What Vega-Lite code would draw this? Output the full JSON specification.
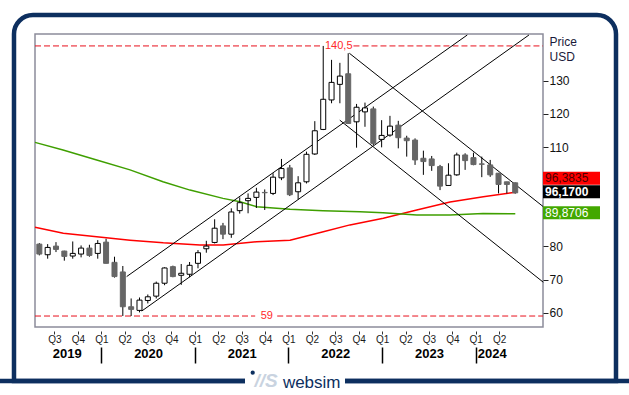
{
"$schema": "https://vega.github.io/schema/vega-lite/v6.json",
"width": 508, "height": 293,
"autosize": {"type": "none"},
"padding": {"left": 35, "top": 34, "right": 86, "bottom": 68},
"background": "#ffffff",
"config": {
  "view": {"stroke": "#8c8c9a", "strokeWidth": 1.5},
  "font": "Liberation Sans",
  "scale": {"continuousPadding": 0},
  "axis": {"labelFont": "Liberation Sans", "titleFont": "Liberation Sans", "grid": false, "domain": false}
},
"datasets": {
  "candles": [
    {"t": 2019.338, "open": 80.7, "high": 81.0, "low": 77.3, "close": 77.7},
    {"t": 2019.427, "open": 77.5, "high": 80.7, "low": 76.3, "close": 79.7},
    {"t": 2019.516, "open": 80.1, "high": 81.3, "low": 78.3, "close": 79.1},
    {"t": 2019.605, "open": 78.6, "high": 78.7, "low": 75.7, "close": 77.0},
    {"t": 2019.695, "open": 77.1, "high": 81.5, "low": 76.3, "close": 77.9},
    {"t": 2019.784, "open": 77.7, "high": 80.3, "low": 76.7, "close": 79.5},
    {"t": 2019.873, "open": 79.5, "high": 80.5, "low": 76.9, "close": 77.3},
    {"t": 2019.962, "open": 77.9, "high": 81.9, "low": 76.3, "close": 80.9},
    {"t": 2020.051, "open": 81.3, "high": 82.3, "low": 74.9, "close": 74.9},
    {"t": 2020.141, "open": 75.2, "high": 76.9, "low": 70.6, "close": 70.9},
    {"t": 2020.230, "open": 72.3, "high": 74.1, "low": 59.0, "close": 61.8},
    {"t": 2020.319, "open": 61.8, "high": 64.3, "low": 59.0, "close": 61.0},
    {"t": 2020.408, "open": 60.7, "high": 64.6, "low": 60.1, "close": 63.8},
    {"t": 2020.497, "open": 63.7, "high": 65.5, "low": 62.8, "close": 64.8},
    {"t": 2020.587, "open": 65.0, "high": 69.4, "low": 64.3, "close": 68.9},
    {"t": 2020.676, "open": 68.9, "high": 73.7, "low": 68.3, "close": 73.5},
    {"t": 2020.765, "open": 73.9, "high": 74.2, "low": 70.7, "close": 70.9},
    {"t": 2020.854, "open": 71.3, "high": 74.7, "low": 68.4, "close": 71.9},
    {"t": 2020.943, "open": 71.6, "high": 75.3, "low": 70.7, "close": 74.3},
    {"t": 2021.033, "open": 74.9, "high": 78.9, "low": 73.4, "close": 78.1},
    {"t": 2021.122, "open": 79.3, "high": 81.7, "low": 78.1, "close": 80.1},
    {"t": 2021.211, "open": 81.2, "high": 88.2, "low": 80.9, "close": 85.5},
    {"t": 2021.300, "open": 86.2, "high": 87.1, "low": 82.2, "close": 83.7},
    {"t": 2021.389, "open": 83.7, "high": 91.5, "low": 82.6, "close": 90.4},
    {"t": 2021.479, "open": 90.8, "high": 94.8, "low": 89.9, "close": 93.2},
    {"t": 2021.568, "open": 93.8, "high": 96.0, "low": 90.0, "close": 94.5},
    {"t": 2021.657, "open": 94.8, "high": 97.7, "low": 91.6, "close": 96.4},
    {"t": 2021.746, "open": 96.3, "high": 97.2, "low": 91.0, "close": 96.2},
    {"t": 2021.835, "open": 96.0, "high": 102.1, "low": 95.5, "close": 100.9},
    {"t": 2021.925, "open": 100.7, "high": 106.4, "low": 100.0, "close": 103.5},
    {"t": 2022.014, "open": 103.7, "high": 104.6, "low": 95.2, "close": 95.6},
    {"t": 2022.103, "open": 96.5, "high": 101.2, "low": 94.2, "close": 99.2},
    {"t": 2022.192, "open": 99.5, "high": 108.6, "low": 99.0, "close": 107.8},
    {"t": 2022.281, "open": 107.9, "high": 117.8, "low": 107.6, "close": 114.9},
    {"t": 2022.371, "open": 115.3, "high": 140.5, "low": 115.1, "close": 124.4},
    {"t": 2022.460, "open": 124.2, "high": 136.3, "low": 123.2, "close": 129.5},
    {"t": 2022.549, "open": 128.9, "high": 135.4, "low": 123.2, "close": 131.4},
    {"t": 2022.638, "open": 132.1, "high": 138.3, "low": 117.1, "close": 117.1},
    {"t": 2022.727, "open": 117.6, "high": 123.0, "low": 109.8, "close": 122.0},
    {"t": 2022.817, "open": 120.6, "high": 123.4, "low": 116.1, "close": 121.8},
    {"t": 2022.906, "open": 121.5, "high": 122.2, "low": 110.6, "close": 111.1},
    {"t": 2022.995, "open": 112.3, "high": 118.1, "low": 109.9, "close": 113.5},
    {"t": 2023.084, "open": 113.6, "high": 119.4, "low": 113.1, "close": 116.3},
    {"t": 2023.173, "open": 116.6, "high": 117.9, "low": 109.6, "close": 112.8},
    {"t": 2023.263, "open": 112.7, "high": 113.4, "low": 107.1, "close": 111.9},
    {"t": 2023.352, "open": 112.1, "high": 112.6, "low": 104.6, "close": 106.1},
    {"t": 2023.441, "open": 106.6, "high": 108.9, "low": 101.6, "close": 105.6},
    {"t": 2023.530, "open": 106.4, "high": 107.3, "low": 102.8, "close": 104.4},
    {"t": 2023.619, "open": 104.1, "high": 104.6, "low": 97.0, "close": 98.2},
    {"t": 2023.709, "open": 98.4, "high": 105.1, "low": 98.4, "close": 101.5},
    {"t": 2023.798, "open": 101.6, "high": 108.3, "low": 101.3, "close": 107.6},
    {"t": 2023.887, "open": 107.6, "high": 108.1, "low": 103.1, "close": 105.9},
    {"t": 2023.976, "open": 106.8, "high": 108.3, "low": 104.5, "close": 104.7},
    {"t": 2024.065, "open": 104.9, "high": 107.1, "low": 100.9, "close": 104.8},
    {"t": 2024.155, "open": 104.6, "high": 106.1, "low": 101.0, "close": 101.6},
    {"t": 2024.244, "open": 102.1, "high": 102.1, "low": 96.0, "close": 98.7},
    {"t": 2024.333, "open": 99.5, "high": 99.5, "low": 96.0, "close": 98.7},
    {"t": 2024.422, "open": 99.2, "high": 99.3, "low": 95.9, "close": 96.17}
  ],
  "ma": [
    {"series": "short", "t": 2019.2917, "v": 85.8},
    {"series": "short", "t": 2019.594, "v": 84.0},
    {"series": "short", "t": 2019.951, "v": 82.9},
    {"series": "short", "t": 2020.307, "v": 81.9},
    {"series": "short", "t": 2020.662, "v": 81.1},
    {"series": "short", "t": 2020.787, "v": 80.9},
    {"series": "short", "t": 2021.054, "v": 80.4},
    {"series": "short", "t": 2021.303, "v": 80.4},
    {"series": "short", "t": 2021.660, "v": 81.4},
    {"series": "short", "t": 2022.016, "v": 81.9},
    {"series": "short", "t": 2022.372, "v": 84.4},
    {"series": "short", "t": 2022.657, "v": 86.5},
    {"series": "short", "t": 2023.013, "v": 88.5},
    {"series": "short", "t": 2023.370, "v": 91.0},
    {"series": "short", "t": 2023.726, "v": 93.4},
    {"series": "short", "t": 2024.081, "v": 95.0},
    {"series": "short", "t": 2024.423, "v": 96.38},
    {"series": "long", "t": 2019.2917, "v": 111.4},
    {"series": "long", "t": 2019.591, "v": 109.1},
    {"series": "long", "t": 2019.951, "v": 106.1},
    {"series": "long", "t": 2020.307, "v": 103.1},
    {"series": "long", "t": 2020.659, "v": 99.5},
    {"series": "long", "t": 2020.948, "v": 97.0},
    {"series": "long", "t": 2021.300, "v": 94.5},
    {"series": "long", "t": 2021.482, "v": 93.5},
    {"series": "long", "t": 2021.660, "v": 92.0},
    {"series": "long", "t": 2022.016, "v": 91.2},
    {"series": "long", "t": 2022.369, "v": 90.8},
    {"series": "long", "t": 2022.764, "v": 90.5},
    {"series": "long", "t": 2023.010, "v": 90.2},
    {"series": "long", "t": 2023.370, "v": 89.5},
    {"series": "long", "t": 2023.726, "v": 89.5},
    {"series": "long", "t": 2024.078, "v": 89.9},
    {"series": "long", "t": 2024.423, "v": 89.87}
  ],
  "trend": [
    {"id": "a1", "t": 2020.271, "v": 70.9}, {"id": "a1", "t": 2023.910, "v": 143.8},
    {"id": "a2", "t": 2020.432, "v": 60.5}, {"id": "a2", "t": 2024.569, "v": 143.8},
    {"id": "d1", "t": 2022.650, "v": 138.3}, {"id": "d1", "t": 2024.722, "v": 92.0},
    {"id": "d2", "t": 2022.548, "v": 118.1}, {"id": "d2", "t": 2024.722, "v": 69.2}
  ],
  "levels": [
    {"level": 140.5, "from": 2019.2917, "to": 2022.363},
    {"level": 140.5, "from": 2022.694, "to": 2024.719},
    {"level": 59, "from": 2019.2917, "to": 2021.644},
    {"level": 59, "from": 2021.879, "to": 2024.719}
  ],
  "levelLabels": [
    {"level": 140.5, "t": 2022.537, "label": "140,5"},
    {"level": 59, "t": 2021.769, "label": "59"}
  ],
  "last": [
    {"name": "short", "value": 96.3835, "label": "96,3835"},
    {"name": "close", "value": 96.17, "label": "96,1700"},
    {"name": "long", "value": 89.8706, "label": "89,8706"}
  ]
},
"resolve": {"axis": {"x": "independent", "y": "independent"}},
"layer": [
  {
    "data": {"values": [{}]},
    "mark": {"type": "rect", "filled": false, "color": "#0d2f5f", "strokeWidth": 4.5, "cornerRadiusTopLeft": 19, "cornerRadiusTopRight": 19},
    "encoding": {
      "x": {"datum": 2019.0673, "type": "quantitative", "scale": {"domain": [2019.2917, 2024.719], "nice": false, "zero": false, "padding": 0}, "axis": null},
      "x2": {"datum": 2025.4989},
      "y": {"datum": 149.83, "type": "quantitative", "scale": {"domain": [55.69, 144.1], "nice": false, "zero": false, "padding": 0}, "axis": null},
      "y2": {"datum": 39.39}
    }
  },
  {
    "data": {"values": [{}]},
    "mark": {"type": "rule", "color": "#0d2f5f", "strokeWidth": 4.5},
    "encoding": {
      "x": {"datum": 2018.9177, "type": "quantitative", "scale": {"domain": [2019.2917, 2024.719], "nice": false, "zero": false, "padding": 0}, "axis": null},
      "x2": {"datum": 2025.638},
      "y": {"datum": 39.39, "type": "quantitative", "scale": {"domain": [55.69, 144.1], "nice": false, "zero": false, "padding": 0}, "axis": null}
    }
  },
  {
    "data": {"values": [{}]},
    "mark": {"type": "rect", "color": "#ffffff"},
    "encoding": {
      "x": {"datum": 2021.5353, "type": "quantitative", "scale": {"domain": [2019.2917, 2024.719], "nice": false, "zero": false, "padding": 0}, "axis": null},
      "x2": {"datum": 2022.6036},
      "y": {"datum": 41.2, "type": "quantitative", "scale": {"domain": [55.69, 144.1], "nice": false, "zero": false, "padding": 0}, "axis": null},
      "y2": {"datum": 37.0}
    }
  },
  {
    "data": {"values": [{}]},
    "mark": {"type": "text", "text": "//S", "fontSize": 19, "fontStyle": "italic", "fontWeight": "bold", "color": "#c9d3e0", "align": "center", "baseline": "alphabetic"},
    "encoding": {
      "x": {"datum": 2021.7596, "type": "quantitative", "scale": {"domain": [2019.2917, 2024.719], "nice": false, "zero": false, "padding": 0}, "axis": null},
      "y": {"datum": 37.6, "type": "quantitative", "scale": {"domain": [55.69, 144.1], "nice": false, "zero": false, "padding": 0}, "axis": null}
    }
  },
  {
    "data": {"values": [{}]},
    "mark": {"type": "circle", "size": 18, "color": "#0d2f5f", "opacity": 1},
    "encoding": {
      "x": {"datum": 2021.6175, "type": "quantitative", "scale": {"domain": [2019.2917, 2024.719], "nice": false, "zero": false, "padding": 0}, "axis": null},
      "y": {"datum": 41.9, "type": "quantitative", "scale": {"domain": [55.69, 144.1], "nice": false, "zero": false, "padding": 0}, "axis": null}
    }
  },
  {
    "data": {"values": [{}]},
    "mark": {"type": "text", "text": "websim", "fontSize": 17, "color": "#0d2f5f", "align": "center", "baseline": "alphabetic"},
    "encoding": {
      "x": {"datum": 2022.2479, "type": "quantitative", "scale": {"domain": [2019.2917, 2024.719], "nice": false, "zero": false, "padding": 0}, "axis": null},
      "y": {"datum": 37.28, "type": "quantitative", "scale": {"domain": [55.69, 144.1], "nice": false, "zero": false, "padding": 0}, "axis": null}
    }
  },
  {
    "data": {"name": "levels"},
    "mark": {"type": "rule", "color": "#e8101c", "strokeWidth": 1, "strokeDash": [6, 3]},
    "encoding": {
      "x": {"field": "from", "type": "quantitative", "scale": {"domain": [2019.2917, 2024.719], "nice": false, "zero": false, "padding": 0}, "axis": null},
      "x2": {"field": "to"},
      "y": {"field": "level", "type": "quantitative", "scale": {"domain": [55.69, 144.1], "nice": false, "zero": false, "padding": 0}, "axis": null}
    }
  },
  {
    "data": {"name": "levelLabels"},
    "mark": {"type": "text", "fontSize": 11, "color": "#ff2a2a", "align": "center", "baseline": "middle"},
    "encoding": {
      "x": {"field": "t", "type": "quantitative", "scale": {"domain": [2019.2917, 2024.719], "nice": false, "zero": false, "padding": 0},
        "axis": {"orient": "bottom", "values": [2019.63, 2020.5, 2021.5, 2022.5, 2023.5, 2024.171], "labelExpr": "'' + floor(datum.value)", "ticks": false, "tickSize": 0, "labelPadding": 0, "offset": 20, "labelFontSize": 13, "labelFontWeight": "bold", "labelColor": "#000000", "labelFlush": false, "labelOverlap": false, "title": null, "domain": false, "grid": false}},
      "y": {"field": "level", "type": "quantitative", "scale": {"domain": [55.69, 144.1], "nice": false, "zero": false, "padding": 0}, "axis": null},
      "text": {"field": "label"}
    }
  },
  {
    "data": {"name": "ma"},
    "mark": {"type": "line", "strokeWidth": 1.5},
    "encoding": {
      "x": {"field": "t", "type": "quantitative", "scale": {"domain": [2019.2917, 2024.719], "nice": false, "zero": false, "padding": 0}, "axis": null},
      "y": {"field": "v", "type": "quantitative", "scale": {"domain": [55.69, 144.1], "nice": false, "zero": false, "padding": 0}, "axis": null},
      "color": {"field": "series", "type": "nominal", "scale": {"domain": ["short", "long"], "range": ["#ff0000", "#3f9f00"]}, "legend": null}
    }
  },
  {
    "data": {"name": "trend"},
    "mark": {"type": "line", "strokeWidth": 1, "color": "#000000"},
    "encoding": {
      "x": {"field": "t", "type": "quantitative", "scale": {"domain": [2019.2917, 2024.719], "nice": false, "zero": false, "padding": 0}, "axis": null},
      "y": {"field": "v", "type": "quantitative", "scale": {"domain": [55.69, 144.1], "nice": false, "zero": false, "padding": 0}, "axis": null},
      "detail": {"field": "id"}
    }
  },
  {
    "data": {"name": "candles"},
    "mark": {"type": "rule", "color": "#000000", "strokeWidth": 1},
    "encoding": {
      "x": {"field": "t", "type": "quantitative", "scale": {"domain": [2019.2917, 2024.719], "nice": false, "zero": false, "padding": 0},
        "axis": {"orient": "bottom", "values": [2019.5, 2019.75, 2020, 2020.25, 2020.5, 2020.75, 2021, 2021.25, 2021.5, 2021.75, 2022, 2022.25, 2022.5, 2022.75, 2023, 2023.25, 2023.5, 2023.75, 2024, 2024.25], "labelExpr": "'Q' + (round((datum.value - floor(datum.value)) * 4) + 1)", "offset": 4, "tickSize": 3, "tickColor": "#333333", "labelPadding": 0.5, "labelFontSize": 10, "labelColor": "#1a1a1a", "labelFlush": false, "labelOverlap": false, "title": null, "domain": false, "grid": false}},
      "y": {"field": "low", "type": "quantitative", "scale": {"domain": [55.69, 144.1], "nice": false, "zero": false, "padding": 0},
        "axis": {"orient": "right", "values": [60, 70, 80, 110, 120, 130], "tickSize": 5, "tickColor": "#222222", "labelPadding": 1, "labelFontSize": 12, "labelColor": "#111111", "title": ["Price", "USD"], "titleAngle": 0, "titleAlign": "left", "titleBaseline": "top", "titleX": 6, "titleY": 2, "titleFontSize": 12, "titleFontWeight": "normal", "titleColor": "#1a1a3a", "titleLineHeight": 15.5, "domain": false, "grid": false}},
      "y2": {"field": "high"}
    }
  },
  {
    "data": {"name": "candles"},
    "mark": {"type": "bar", "size": 5, "strokeWidth": 1},
    "encoding": {
      "x": {"field": "t", "type": "quantitative", "scale": {"domain": [2019.2917, 2024.719], "nice": false, "zero": false, "padding": 0},
        "axis": {"orient": "bottom", "values": [2020, 2021, 2022, 2023, 2024], "labels": false, "offset": 20, "tickSize": 16, "tickColor": "#000000", "tickWidth": 1.5, "title": null, "domain": false, "grid": false}},
      "y": {"field": "open", "type": "quantitative", "scale": {"domain": [55.69, 144.1], "nice": false, "zero": false, "padding": 0}, "axis": null},
      "y2": {"field": "close"},
      "fill": {"condition": {"test": "datum.close > datum.open", "value": "#ffffff"}, "value": "#666666"},
      "stroke": {"condition": {"test": "datum.close > datum.open", "value": "#000000"}, "value": "#666666"}
    }
  },
  {
    "data": {"name": "last"},
    "mark": {"type": "bar", "size": 13, "yOffset": {"expr": "datum.name === 'short' ? -14 : -1"}},
    "encoding": {
      "x": {"datum": 2024.719, "type": "quantitative", "scale": {"domain": [2019.2917, 2024.719], "nice": false, "zero": false, "padding": 0}, "axis": null},
      "x2": {"datum": 2025.328},
      "y": {"field": "value", "type": "quantitative", "scale": {"domain": [55.69, 144.1], "nice": false, "zero": false, "padding": 0}, "axis": null},
      "fill": {"condition": [{"test": "datum.name === 'short'", "value": "#ff0000"}, {"test": "datum.name === 'close'", "value": "#000000"}], "value": "#43a800"}
    }
  },
  {
    "data": {"name": "last"},
    "mark": {"type": "text", "fontSize": 12, "align": "left", "baseline": "middle", "yOffset": {"expr": "datum.name === 'short' ? -14 : -1"}, "fontWeight": {"expr": "datum.name === 'close' ? 'bold' : 'normal'"}},
    "encoding": {
      "x": {"datum": 2024.7404, "type": "quantitative", "scale": {"domain": [2019.2917, 2024.719], "nice": false, "zero": false, "padding": 0}, "axis": null},
      "y": {"field": "value", "type": "quantitative", "scale": {"domain": [55.69, 144.1], "nice": false, "zero": false, "padding": 0}, "axis": null},
      "text": {"field": "label"},
      "fill": {"condition": {"test": "datum.name === 'short'", "value": "#4a0000"}, "value": "#ffffff"}
    }
  }
]
}
